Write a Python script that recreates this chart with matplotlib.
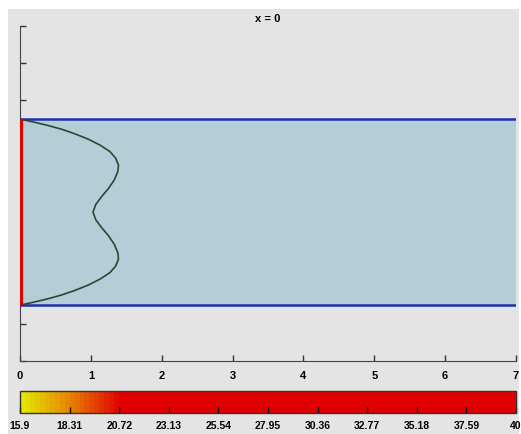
import numpy as np
import matplotlib
matplotlib.use('Agg')
from matplotlib import pyplot as plt
from matplotlib.colors import LinearSegmentedColormap, Normalize
from matplotlib.patches import Rectangle
import matplotlib.colorbar as mcolorbar

plt.rcParams['font.family'] = ['Liberation Sans', 'DejaVu Sans']

# velocity profile at inlet (eta = -1 bottom wall .. 1 top wall)
eta_top = [1.0, 0.965, 0.93, 0.89, 0.84, 0.785, 0.72, 0.65, 0.58, 0.505,
           0.435, 0.345, 0.255, 0.165, 0.083, 0.0]
u_top = [0.0, 0.21, 0.40, 0.59, 0.78, 0.96, 1.13, 1.27, 1.35, 1.39,
         1.38, 1.33, 1.25, 1.15, 1.07, 1.03]
eta = eta_top + [-e for e in eta_top[::-1][1:]]
u = u_top + u_top[::-1][1:]

channel_len = 7
wall_lo, wall_hi = -1.0, 1.0
x_ticks = [0, 1, 2, 3, 4, 5, 6, 7]

# colour scale
c_min, c_max = 15.9, 40
c_ticks = [15.9, 18.31, 20.72, 23.13, 25.54, 27.95, 30.36, 32.77, 35.18, 37.59, 40]
c_stops = [(0.0, '#e6e600'), (0.09, '#e68a00'), (0.2, '#e00000'), (1.0, '#e00000')]

bg = '#e4e4e4'
fig = plt.figure(figsize=(5.21, 4.34), dpi=100, facecolor='white')
fig.patches.append(Rectangle((8/521, 0), 511/521, 425/434, transform=fig.transFigure,
                             facecolor=bg, edgecolor='none', zorder=-10))

ax = fig.add_axes([20/521, 73/434, 496/521, 335/434])
ax.set_facecolor(bg)
ax.set_axisbelow(True)
ax.fill_between([0, channel_len], wall_lo, wall_hi, color='#b4cdd6', zorder=1, lw=0)
ax.plot([0, channel_len], [wall_hi, wall_hi], color='#1f2fb0', lw=1.8, zorder=3)
ax.plot([0, channel_len], [wall_lo, wall_lo], color='#1f2fb0', lw=1.8, zorder=3)
ax.plot(u, eta, color='#2c4636', lw=1.2, zorder=4)
ax.plot([0, 0], [wall_lo, wall_hi], color='#e00000', lw=4.5, zorder=5, solid_capstyle='butt')

ax.set_xlim(0, channel_len)
ax.set_ylim(-1.6, 2.0)
ax.set_xticks(x_ticks)
ax.set_yticks(np.arange(-1.6, 2.01, 0.4))
ax.set_yticklabels([])
ax.tick_params(direction='in', length=4, width=1, color='#333333', labelsize=8, pad=7)
for lab in ax.get_xticklabels():
    lab.set_fontweight('bold')
for s in ['top', 'right']:
    ax.spines[s].set_visible(False)
for s in ['left', 'bottom']:
    ax.spines[s].set_color('#444444')
ax.set_title('x = 0', fontsize=8, fontweight='bold', pad=3)

cax = fig.add_axes([20/521, 21/434, 496/521, 22/434])
cmap = LinearSegmentedColormap.from_list('inlet', c_stops, N=100)
cb = mcolorbar.ColorbarBase(cax, cmap=cmap, norm=Normalize(c_min, c_max), orientation='horizontal')
cb.set_ticks(c_ticks)
cb.set_ticklabels([str(t) for t in c_ticks])
cb.outline.set_edgecolor('#333333')
cb.outline.set_linewidth(1)
cax.tick_params(direction='in', length=4, width=1, color='black', labelsize=7.5, pad=6)
for lab in cax.get_xticklabels():
    lab.set_fontweight('bold')

fig.savefig('out.png', dpi=100, facecolor='white')
